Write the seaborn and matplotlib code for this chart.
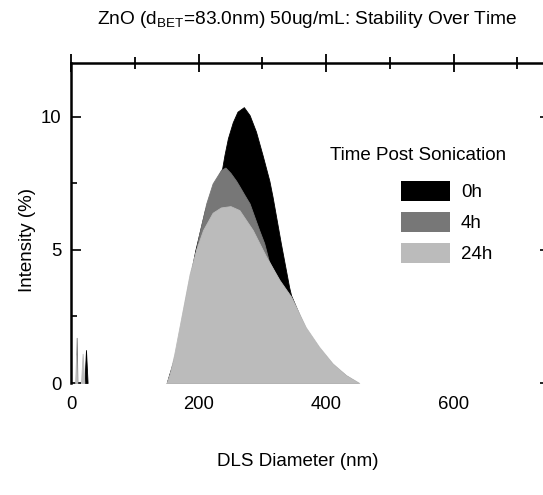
import matplotlib
matplotlib.use("Agg")
import matplotlib.pyplot as plt
import seaborn as sns
import numpy as np
import pandas as pd
from matplotlib.patches import Patch
from matplotlib.ticker import MultipleLocator

# ---- data ----
series_names = ["0h", "4h", "24h"]
series_colors = ["#000000", "#777777", "#bbbbbb"]

# 0h
x_0h = [0, 21.0, 23.5, 26.0, 150, 165, 180, 195, 210, 225, 237, 240.6, 246, 253.6,
        261, 271, 280, 290, 300.5, 311, 316, 329, 342, 345, 368, 389, 410, 431, 450, 740]
y_0h = [0, 0, 1.24, 0, 0, 1.2, 3.2, 5.0, 6.5, 7.5, 8.07, 8.57, 9.2, 9.8,
        10.2, 10.37, 10.07, 9.45, 8.55, 7.6, 7.0, 5.25, 3.6, 3.3, 2.0, 1.3, 0.7, 0.28, 0, 0]

# 4h
x_4h = [0, 7.5, 8.9, 10.1, 150, 160, 168, 175, 183, 191, 201, 212, 222, 235, 242,
        250, 259, 264, 272, 280, 295, 303, 310, 327, 345, 368, 389, 410, 431, 450, 740]
y_4h = [0, 0, 1.7, 0, 0, 0.7, 1.6, 2.4, 3.4, 4.4, 5.6, 6.75, 7.5, 8.0, 8.1,
        7.9, 7.6, 7.4, 7.07, 6.75, 5.75, 5.25, 4.6, 3.8, 3.2, 2.05, 1.3, 0.7, 0.28, 0, 0]

# 24h
x_24h = [0, 6.5, 8.0, 9.5, 15.7, 18.2, 21.0, 150, 155, 162, 170, 178, 186, 196, 207,
         222, 235, 250, 264, 285, 306, 327, 345, 368, 389, 410, 431, 452, 740]
y_24h = [0, 0, 1.05, 0, 0, 1.1, 0, 0, 0.36, 1.1, 2.1, 3.1, 4.1, 5.0, 5.75,
         6.4, 6.6, 6.65, 6.5, 5.75, 4.75, 3.87, 3.25, 2.1, 1.36, 0.74, 0.3, 0, 0]

x_ticks = [0, 200, 400, 600]
y_ticks = [0, 5, 10]

frames = []
for name, xs, ys in [("0h", x_0h, y_0h), ("4h", x_4h, y_4h), ("24h", x_24h, y_24h)]:
    frames.append(pd.DataFrame({"diameter": xs, "intensity": ys, "time": name}))
df = pd.concat(frames, ignore_index=True)


def nonzero_runs(y):
    """Index ranges of humps: each run starts and ends at a zero sample."""
    y = np.asarray(y)
    runs, start = [], None
    for i in range(len(y)):
        if y[i] > 0 and start is None:
            start = max(i - 1, 0)
        if y[i] == 0 and start is not None:
            runs.append((start, i + 1))
            start = None
    return runs


# ---- style ----
sns.set_style("white")
plt.rcParams["font.family"] = ["Liberation Sans", "DejaVu Sans"]
plt.rcParams["mathtext.default"] = "regular"
plt.rcParams["text.color"] = "black"
plt.rcParams["xtick.color"] = "black"
plt.rcParams["ytick.color"] = "black"
plt.rcParams["xtick.labelcolor"] = "black"
plt.rcParams["ytick.labelcolor"] = "black"

W, H = 543, 495
fig = plt.figure(figsize=(W / 100, H / 100), dpi=100)
ax = fig.add_axes([71 / W, 1 - 383 / H, (543 - 71) / W, (383 - 63) / H])

palette = dict(zip(series_names, series_colors))
for name in series_names:
    sub = df[df["time"] == name].reset_index(drop=True)
    sns.lineplot(data=sub, x="diameter", y="intensity", color=palette[name],
                 linewidth=0, ax=ax, legend=False, sort=False, estimator=None)
    for a, b in nonzero_runs(sub["intensity"]):
        seg = sub.iloc[a:b]
        ax.fill_between(seg["diameter"], seg["intensity"], 0, color=palette[name],
                        edgecolor=palette[name], linewidth=0.6)

ax.set_xlim(0, 740)
ax.set_ylim(0, 12.03)
ax.set_xticks(x_ticks)
ax.set_yticks(y_ticks)
ax.xaxis.set_minor_locator(MultipleLocator(100))
ax.yaxis.set_minor_locator(MultipleLocator(2.5))
ax.set_xlabel("")
ax.set_ylabel("")

for s in ["bottom", "right"]:
    ax.spines[s].set_visible(False)
for s in ["left", "top"]:
    ax.spines[s].set_visible(True)
    ax.spines[s].set_color("black")
    ax.spines[s].set_linewidth(1.8)
    ax.spines[s].set_zorder(5)

FS = 13.3
ax.tick_params(axis="x", which="both", bottom=False, top=True, labelbottom=True,
               labeltop=False, direction="inout", color="black", width=1.3,
               labelsize=FS, pad=3, labelcolor="black")
ax.tick_params(axis="x", which="major", length=13)
ax.tick_params(axis="x", which="minor", length=9)
ax.tick_params(axis="y", which="both", left=True, right=True, direction="in",
               color="black", width=1.2, labelsize=FS, pad=7, labelcolor="black")
ax.tick_params(axis="y", which="major", length=7)
ax.tick_params(axis="y", which="minor", length=4, right=False)
for t in ax.yaxis.get_major_ticks():
    t.tick2line.set_markersize(2)

fig.text(307 / W, 1 - 20 / H, r"ZnO (d$_{BET}$=83.0nm) 50ug/mL: Stability Over Time",
         ha="center", va="center", fontsize=13.8, color="black")
fig.text(298 / W, 1 - 461 / H, "DLS Diameter (nm)", ha="center", va="center",
         fontsize=13.5, color="black")
fig.text(27 / W, 1 - 240 / H, "Intensity (%)", ha="center", va="center",
         rotation=90, fontsize=13.5, color="black")

fig.text(330 / W, 1 - 155 / H, "Time Post Sonication", ha="left", va="center",
         fontsize=13.5, color="black")
handles = [Patch(facecolor=c, edgecolor="none") for c in series_colors]
leg = ax.legend(handles, series_names, loc="upper left",
                bbox_to_anchor=(401 / W, 1 - 180.5 / H), bbox_transform=fig.transFigure,
                frameon=False, fontsize=13.5, handlelength=2.6, handleheight=1.3,
                handletextpad=0.6, labelspacing=0.56, borderpad=0, borderaxespad=0)
for t in leg.get_texts():
    t.set_color("black")

fig.savefig("out.png", dpi=100)
